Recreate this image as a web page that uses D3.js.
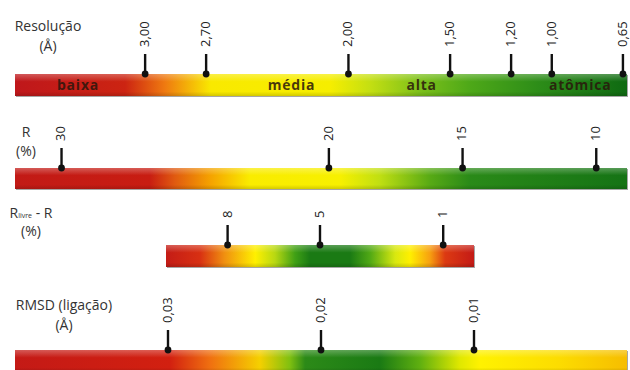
<!DOCTYPE html>
<html><head><meta charset="utf-8">
<script src="https://cdn.jsdelivr.net/npm/d3@7"></script>
<style>
html,body{margin:0;padding:0;background:#fff;}
svg{display:block;}
text{font-family:"Open Sans",sans-serif;}
</style></head>
<body>
<div id="chart"></div>
<script>
// ---- Data ----
const resTicks = [3.00, 2.70, 2.00, 1.50, 1.20, 1.00, 0.65];
const resTickLabels = ["3,00", "2,70", "2,00", "1,50", "1,20", "1,00", "0,65"];
const resZones = ["baixa", "média", "alta", "atômica"];
const resZoneCenters = [3.33, 2.28, 1.64, 0.86];

const rTicks = [30, 20, 15, 10];
const rTickLabels = ["30", "20", "15", "10"];

const rfreeTicks = [8, 5, 1];
const rfreeTickLabels = ["8", "5", "1"];

const rmsdTicks = [0.03, 0.02, 0.01];
const rmsdTickLabels = ["0,03", "0,02", "0,01"];

// gradient stops (fraction of bar, colour)
const resStops = [[0, "#bf171b"], [0.18, "#cc2412"], [0.245, "#ef7a10"], [0.32, "#f9e900"], [0.515, "#f6ee00"], [0.58, "#c4df12"], [0.662, "#7cc01a"], [0.743, "#4ea818"], [0.858, "#2c8c18"], [1, "#0f6a12"]];
const rStops = [[0, "#c21a16"], [0.22, "#c81d12"], [0.261, "#e05a10"], [0.319, "#f5a200"], [0.384, "#faec00"], [0.531, "#f7f000"], [0.596, "#c0df12"], [0.678, "#58aa15"], [0.743, "#2a8a18"], [1, "#157315"]];
const rfreeStops = [[0, "#c41c16"], [0.11, "#d83012"], [0.19, "#f09010"], [0.29, "#fff000"], [0.354, "#b8d812"], [0.419, "#40a015"], [0.468, "#1a7a14"], [0.597, "#1a7a14"], [0.662, "#50a815"], [0.744, "#d8e810"], [0.792, "#fff000"], [0.857, "#f7a010"], [0.906, "#dc3a12"], [1, "#c41a16"]];
const rmsdStops = [[0, "#c41a16"], [0.253, "#d22010"], [0.319, "#f07010"], [0.4, "#f5d000"], [0.449, "#80c010"], [0.474, "#2c8a18"], [0.596, "#1a7a14"], [0.662, "#60b010"], [0.727, "#e0e800"], [0.76, "#fff200"], [0.89, "#fcdc00"], [1, "#f6bd00"]];

// ---- Drawing ----
const W = 630, H = 370;
const svg = d3.select("#chart").append("svg").attr("width", W).attr("height", H);
const defs = svg.append("defs");

const gloss = defs.append("linearGradient").attr("id", "gloss").attr("x1", 0).attr("y1", 0).attr("x2", 0).attr("y2", 1);
gloss.append("stop").attr("offset", 0).attr("stop-color", "#fff").attr("stop-opacity", 0.28);
gloss.append("stop").attr("offset", 0.35).attr("stop-color", "#fff").attr("stop-opacity", 0.0);
gloss.append("stop").attr("offset", 0.8).attr("stop-color", "#000").attr("stop-opacity", 0.0);
gloss.append("stop").attr("offset", 1).attr("stop-color", "#000").attr("stop-opacity", 0.15);

const bars = [
  {id: "g1", scale: d3.scaleLinear().domain([3.64, 0.63]).range([15, 627]), y: 74, h: 22,
   ticks: resTicks, labels: resTickLabels, stops: resStops,
   title: ["Resolução", "(Å)"], tx: 48, ty: [31, 51]},
  {id: "g2", scale: d3.scaleLinear().domain([31.74, 8.85]).range([15, 627]), y: 168, h: 21,
   ticks: rTicks, labels: rTickLabels, stops: rStops,
   title: ["R", "(%)"], tx: 26, ty: [137, 156]},
  {id: "g3", scale: d3.scaleLinear().domain([10, 0]).range([166, 474]), y: 245, h: 22,
   ticks: rfreeTicks, labels: rfreeTickLabels, stops: rfreeStops,
   title: null, tx: 31, ty: [218, 236]},
  {id: "g4", scale: d3.scaleLinear().domain([0.04, 0.0]).range([15, 627]), y: 350, h: 22,
   ticks: rmsdTicks, labels: rmsdTickLabels, stops: rmsdStops,
   title: ["RMSD (ligação)", "(Å)"], tx: 64, ty: [310, 330]}
];

bars.forEach(b => {
  const [x0, x1] = b.scale.range();
  const lg = defs.append("linearGradient").attr("id", b.id).attr("x1", 0).attr("x2", 1).attr("y1", 0).attr("y2", 0);
  lg.selectAll("stop").data(b.stops).join("stop")
    .attr("offset", d => d[0]).attr("stop-color", d => d[1]);

  const g = svg.append("g");
  // shadow
  g.append("rect").attr("x", x0 + 1).attr("y", b.y + 1).attr("width", x1 - x0).attr("height", b.h)
    .attr("fill", "#000").attr("opacity", 0.35);
  g.append("rect").attr("x", x0).attr("y", b.y).attr("width", x1 - x0).attr("height", b.h)
    .attr("fill", `url(#${b.id})`);
  g.append("rect").attr("x", x0).attr("y", b.y).attr("width", x1 - x0).attr("height", b.h)
    .attr("fill", "url(#gloss)");

  // ticks
  const tk = g.selectAll("g.tick").data(b.ticks).join("g").attr("class", "tick")
    .attr("transform", d => `translate(${b.scale(d)},${b.y})`);
  tk.append("line").attr("x1", 0).attr("x2", 0).attr("y1", 0).attr("y2", -20)
    .attr("stroke", "#111").attr("stroke-width", 2.4);
  tk.append("circle").attr("r", 3.4).attr("fill", "#111");
  tk.append("text").attr("transform", "translate(0,-27) rotate(-90)")
    .attr("dy", "0.3em").attr("text-anchor", "start")
    .attr("font-size", 13).attr("fill", "#222")
    .text((d, i) => b.labels[i]);

  // title
  if (b.title) {
    g.append("text").attr("x", b.tx).attr("y", b.ty[0]).attr("text-anchor", "middle")
      .attr("font-size", 14).attr("fill", "#333").text(b.title[0]);
  } else {
    const t = g.append("text").attr("x", b.tx).attr("y", b.ty[0]).attr("text-anchor", "middle")
      .attr("font-size", 14).attr("fill", "#333");
    t.append("tspan").text("R");
    t.append("tspan").attr("font-size", 7).text("livre");
    t.append("tspan").text(" - R");
  }
  g.append("text").attr("x", b.tx).attr("y", b.ty[1]).attr("text-anchor", "middle")
    .attr("font-size", 14).attr("fill", "#333").text(b.title ? b.title[1] : "(%)");
});

// zone labels on resolution bar
const s1 = bars[0].scale;
svg.append("g").selectAll("text").data(resZones).join("text")
  .attr("x", (d, i) => s1(resZoneCenters[i]))
  .attr("y", bars[0].y + bars[0].h / 2)
  .attr("dy", "0.36em").attr("text-anchor", "middle")
  .attr("font-family", "'Liberation Sans', Arial, sans-serif")
  .attr("font-weight", "bold").attr("font-size", 14).attr("letter-spacing", 0.8)
  .attr("fill", "#2a160c").attr("fill-opacity", 0.85)
  .text(d => d);
</script>
</body></html>
